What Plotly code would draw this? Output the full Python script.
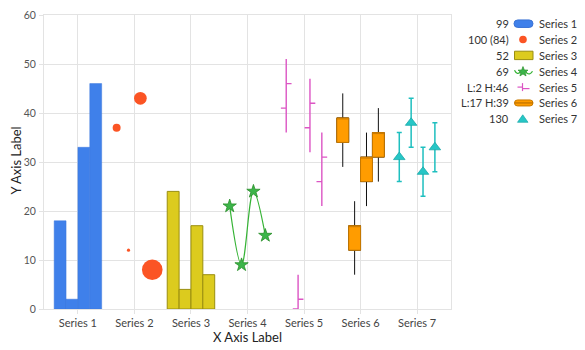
import math
import plotly.graph_objects as go

categories = ["Series 1", "Series 2", "Series 3", "Series 4", "Series 5", "Series 6", "Series 7"]
names = categories
offsets = [-0.315, -0.105, 0.105, 0.315]

s1 = [18, 2, 33, 46]
s2_y = [37, 12, 43, 8]
s2_size = [15, 6, 24, 39]
s3 = [24, 4, 17, 7]
s4 = [21, 9, 24, 15]
s5_open = [41, 0, 37, 26]
s5_high = [51, 7, 47, 36]
s5_low = [36, 0, 32, 21]
s5_close = [46, 2, 42, 31]
s6_open = [34, 12, 26, 31]
s6_high = [44, 22, 36, 41]
s6_low = [29, 7, 21, 26]
s6_close = [39, 17, 31, 36]
s7 = [31, 38, 28, 33]
s7_err = [5, 5, 5, 5]
y_ticks = [0, 10, 20, 30, 40, 50, 60]
x_title = "X Axis Label"
y_title = "Y Axis Label"


def xs(i):
    return [i + o for o in offsets]


FONT = "Lato"
C1, C2, C3, C4, C5, C6, C7 = "#3f80ea", "#fb5424", "#dccb1e", "#3cb54a", "#dc55c4", "#ff9c00", "#26c6c6"

fig = go.Figure()

fig.add_trace(go.Bar(x=xs(0), y=s1, width=0.21, name=names[0],
                     marker=dict(color=C1, line=dict(color="#3a76dc", width=0.5))))
fig.add_trace(go.Scatter(x=xs(1), y=s2_y, mode="markers", name=names[1],
                         marker=dict(size=s2_size, sizemode="diameter", sizeref=1.89,
                                     color=C2, opacity=1, line=dict(width=0))))
fig.add_trace(go.Bar(x=xs(2), y=s3, width=0.21, name=names[2],
                     marker=dict(color=C3, line=dict(color="#9a8e10", width=1))))
fig.add_trace(go.Scatter(x=xs(3), y=s4, mode="lines+markers", name=names[3],
                         line=dict(color="#35b335", width=1.2, shape="spline"),
                         marker=dict(symbol="star", size=10, color=C4,
                                     line=dict(color="#2a8f2a", width=0.8))))
fig.add_trace(go.Ohlc(x=xs(4), open=s5_open, high=s5_high, low=s5_low, close=s5_close,
                      name=names[4], tickwidth=0.45,
                      increasing=dict(line=dict(color=C5, width=1.4)),
                      decreasing=dict(line=dict(color=C5, width=1.4))))
fig.add_trace(go.Candlestick(x=xs(5), open=s6_open, high=s6_high, low=s6_low, close=s6_close,
                             name=names[5], whiskerwidth=0,
                             increasing=dict(fillcolor=C6, line=dict(color="#111111", width=1)),
                             decreasing=dict(fillcolor=C6, line=dict(color="#111111", width=1))))
body_hi = [max(o, c) for o, c in zip(s6_open, s6_close)]
body_lo = [min(o, c) for o, c in zip(s6_open, s6_close)]
fig.add_trace(go.Candlestick(x=xs(5), open=s6_open, high=body_hi, low=body_lo, close=s6_close,
                             showlegend=False, whiskerwidth=0,
                             increasing=dict(fillcolor=C6, line=dict(color="#c97a00", width=1)),
                             decreasing=dict(fillcolor=C6, line=dict(color="#c97a00", width=1))))
fig.add_trace(go.Scatter(x=xs(6), y=s7, mode="markers", name=names[6],
                         marker=dict(symbol="triangle-up", size=10, color=C7,
                                     line=dict(color="#1aa9a9", width=0.8)),
                         error_y=dict(type="data", array=s7_err, color="#1fbfbf",
                                      thickness=1.5, width=2.5)))

legend_vals = [
    str(sum(s1)),
    f"{sum(s2_y)} ({sum(s2_size)})",
    str(sum(s3)),
    str(sum(s4)),
    f"L:{min(s5_close)} H:{max(s5_close)}",
    f"L:{min(s6_close)} H:{max(s6_close)}",
    str(sum(s7)),
]

# ---- custom legend and axis titles (layout decoration in pixel space) ----
ML, MR, MT, MB = 44, 134, 15, 41
PW, PH = 585 - ML - MR, 350 - MT - MB


def X(px):
    return (px - ML) / PW


def Y(py):
    return (350 - MB - py) / PH


def path(pts, close=False):
    s = "M " + " L ".join(f"{X(a):.5f},{Y(b):.5f}" for a, b in pts)
    return s + (" Z" if close else "")


row_y = [23.7 + 15.85 * k for k in range(7)]
shapes = []
annotations = [
    dict(text=x_title, xref="paper", yref="paper", x=X(247.5), y=Y(336.5),
         xanchor="center", yanchor="middle", showarrow=False,
         font=dict(family=FONT, size=13, color="#222222")),
    dict(text=y_title, xref="paper", yref="paper", x=X(15), y=Y(160.5),
         xanchor="center", yanchor="middle", showarrow=False, textangle=-90,
         font=dict(family=FONT, size=13, color="#222222")),
]
for k in range(7):
    annotations.append(dict(text=legend_vals[k], xref="paper", yref="paper",
                            x=X(510.5), y=Y(row_y[k]), xanchor="right", yanchor="middle",
                            showarrow=False, font=dict(family=FONT, size=11, color="#333333")))
    annotations.append(dict(text=names[k], xref="paper", yref="paper",
                            x=X(536.5), y=Y(row_y[k]), xanchor="left", yanchor="middle",
                            showarrow=False, font=dict(family=FONT, size=11, color="#333333")))


def capsule(x0, x1, yc, h, fill, line):
    r = h / 2
    d = (f"M {X(x0 + r):.5f},{Y(yc - r):.5f} L {X(x1 - r):.5f},{Y(yc - r):.5f} "
         f"Q {X(x1):.5f},{Y(yc - r):.5f} {X(x1):.5f},{Y(yc):.5f} "
         f"Q {X(x1):.5f},{Y(yc + r):.5f} {X(x1 - r):.5f},{Y(yc + r):.5f} "
         f"L {X(x0 + r):.5f},{Y(yc + r):.5f} "
         f"Q {X(x0):.5f},{Y(yc + r):.5f} {X(x0):.5f},{Y(yc):.5f} "
         f"Q {X(x0):.5f},{Y(yc - r):.5f} {X(x0 + r):.5f},{Y(yc - r):.5f} Z")
    return dict(type="path", xref="paper", yref="paper", path=d, fillcolor=fill,
                line=dict(color=line, width=1))


shapes.append(capsule(514, 533, row_y[0], 7.5, C1, "#3a72d4"))
cx, cy, r = 523, row_y[1], 3.8
shapes.append(dict(type="circle", xref="paper", yref="paper", x0=X(cx - r), x1=X(cx + r),
                   y0=Y(cy + r), y1=Y(cy - r), fillcolor=C2, line=dict(width=0)))
shapes.append(dict(type="rect", xref="paper", yref="paper", x0=X(514.5), x1=X(533),
                   y0=Y(row_y[2] + 4.2), y1=Y(row_y[2] - 4.2), fillcolor=C3,
                   line=dict(color="#9a8e10", width=1)))
yc = row_y[3]
curve = (f"M {X(514.5):.5f},{Y(yc - 1):.5f} Q {X(517):.5f},{Y(yc + 4):.5f} {X(520):.5f},{Y(yc + 1):.5f} "
         f"Q {X(524):.5f},{Y(yc - 3):.5f} {X(527):.5f},{Y(yc + 2):.5f} "
         f"Q {X(530):.5f},{Y(yc + 4):.5f} {X(532.5):.5f},{Y(yc):.5f}")
shapes.append(dict(type="path", xref="paper", yref="paper", path=curve,
                   line=dict(color="#35b335", width=1.3)))
star = []
for j in range(10):
    rr = 5.2 if j % 2 == 0 else 2.2
    a = -math.pi / 2 + j * math.pi / 5
    star.append((523 + rr * math.cos(a), yc + 0.5 + rr * math.sin(a)))
shapes.append(dict(type="path", xref="paper", yref="paper", path=path(star, True),
                   fillcolor=C4, line=dict(color="#2a8f2a", width=0.7)))
yc = row_y[4]
shapes.append(dict(type="path", xref="paper", yref="paper",
                   path=path([(522.5, yc - 4), (522.5, yc + 4)]), line=dict(color=C5, width=1.2)))
shapes.append(dict(type="path", xref="paper", yref="paper",
                   path=path([(517.5, yc), (522.5, yc)]), line=dict(color=C5, width=1.2)))
shapes.append(dict(type="path", xref="paper", yref="paper",
                   path=path([(522.5, yc + 1.5), (529.5, yc + 1.5)]), line=dict(color=C5, width=1.2)))
shapes.append(capsule(514.5, 533, row_y[5], 6, C6, "#c97a00"))
shapes.append(dict(type="path", xref="paper", yref="paper",
                   path=path([(514.5, row_y[5]), (533, row_y[5])]), line=dict(color="#b06a00", width=1)))
yc = row_y[6]
shapes.append(dict(type="path", xref="paper", yref="paper",
                   path=path([(517.5, yc + 3.5), (528, yc + 3.5), (522.75, yc - 4)], True),
                   fillcolor=C7, line=dict(color="#1aa9a9", width=0.7)))

fig.update_layout(
    width=585, height=350,
    margin=dict(l=ML, r=MR, t=MT, b=MB),
    paper_bgcolor="white", plot_bgcolor="white",
    barmode="overlay", boxgap=0, boxgroupgap=0,
    font=dict(family=FONT, size=11, color="#333333"),
    showlegend=False,
    annotations=annotations,
    shapes=shapes,
    xaxis=dict(range=[-0.6, 6.6], tickmode="array", tickvals=list(range(7)),
               ticktext=categories, showgrid=True, gridcolor="#e3e3e3", automargin=False,
               ticks="outside", ticklen=4, tickcolor="#e3e3e3",
               showline=True, linecolor="#e3e3e3", mirror=True, zeroline=False,
               rangeslider=dict(visible=False),
               tickfont=dict(family=FONT, size=11, color="#444444")),
    yaxis=dict(range=[0, 60], tickvals=y_ticks, showgrid=True, gridcolor="#e3e3e3", automargin=False,
               ticks="outside", ticklen=4, tickcolor="#e3e3e3", ticklabelstandoff=1,
               showline=True, linecolor="#e3e3e3", mirror=True, zeroline=False,
               tickfont=dict(family=FONT, size=10.5, color="#555555")),
)

fig.write_html("out.html")
